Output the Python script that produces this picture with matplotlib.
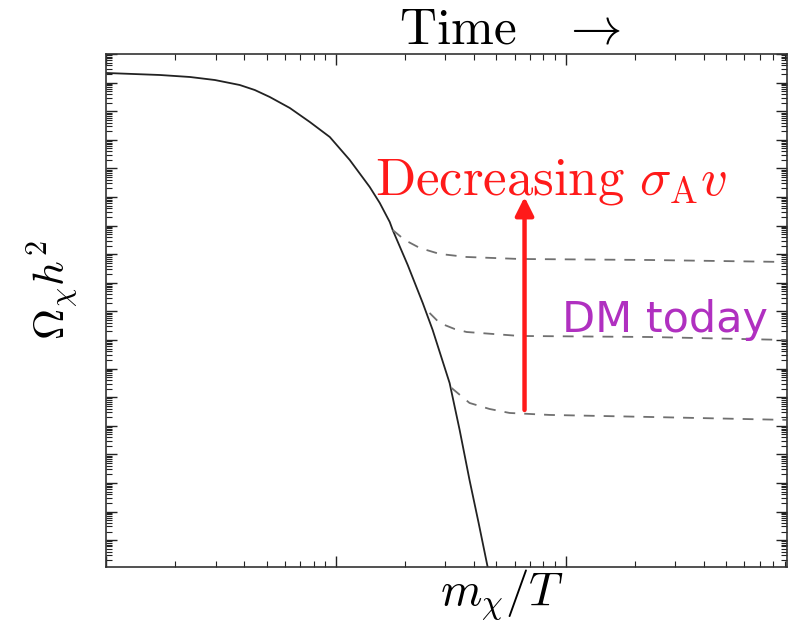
import matplotlib
matplotlib.use("Agg")
import matplotlib.pyplot as plt
from matplotlib.ticker import LogLocator, NullFormatter

plt.rcParams['mathtext.fontset'] = 'cm'

# ---- data ----
eq_x = [1.0, 1.717, 2.32, 2.98, 3.82, 4.44, 5.16, 6.31, 7.71, 9.42, 11.5, 14.05, 15.54,
        17.17, 17.69, 20.56, 23.9, 26.4, 28.6, 31.3, 34.6, 38.2, 41.85, 45.8, 49.1]
eq_y = [0.217, 0.1844, 0.157, 0.123, 0.0824, 0.0551, 0.0314, 0.01294, 4.19e-3, 1.25e-3,
        1.97e-4, 2.24e-5, 6.17e-6, 1.34e-6, 7.0e-7, 4.2e-8, 1.97e-9, 2.24e-10, 2.99e-11,
        3.1e-12, 7.13e-14, 1.27e-15, 3.99e-17, 1.16e-18, 8.1e-20]

fo1_x = [17.69, 19.95, 23.2, 28.3, 37.1, 63.1, 231.9, 914.0]
fo1_y = [7.0e-7, 3.14e-7, 1.65e-7, 1.02e-7, 7.98e-8, 6.79e-8, 6.26e-8, 5.33e-8]

fo2_x = [25.6, 28.3, 32.9, 37.1, 63.1, 231.9, 914.0]
fo2_y = [8.8e-10, 3.93e-10, 2.42e-10, 1.9e-10, 1.38e-10, 1.27e-10, 1.0e-10]

fo3_x = [31.9, 38.2, 46.7, 57.1, 85.2, 231.9, 914.0]
fo3_y = [2.1e-12, 6.27e-13, 3.86e-13, 2.8e-13, 2.39e-13, 2.03e-13, 1.6e-13]

x_limits = [1.0, 920.0]
y_limits = [1.15e-18, 1.0]

arrow_x = 66.3
arrow_y_start = 3.56e-13
arrow_y_end = 1.0e-5

label_sigma = r'$\mathrm{Decreasing}\ \sigma_{\rm A}v$'
label_sigma_pos = (14.8, 1.2e-5)
label_dm = 'DM today'
label_dm_pos = (96.1, 1.9e-10)

fig = plt.figure(figsize=(7.95, 6.23), dpi=100)
ax = fig.add_axes([106/795, 1 - 567/623, (787 - 106)/795, (567 - 54)/623])

ax.set_xscale('log')
ax.set_yscale('log')
ax.set_xlim(*x_limits)
ax.set_ylim(*y_limits)

ax.plot(eq_x, eq_y, color='#222222', lw=1.3, solid_capstyle='butt')
for fx, fy in [(fo1_x, fo1_y), (fo2_x, fo2_y), (fo3_x, fo3_y)]:
    ax.plot(fx, fy, color='#707070', lw=1.3, dashes=(6, 5))

ax.annotate('', xy=(arrow_x, arrow_y_end), xytext=(arrow_x, arrow_y_start),
            arrowprops=dict(arrowstyle='-|>,head_length=1.1,head_width=0.55',
                            color='#ff1a1a', lw=3.2, shrinkA=0, shrinkB=0))

ax.text(*label_sigma_pos, label_sigma, color='#ff1a1a', fontsize=38,
        ha='left', va='baseline')
ax.text(*label_dm_pos, label_dm, color='#b030c0', fontsize=31,
        family='DejaVu Sans', ha='left', va='baseline')

ax.xaxis.set_major_locator(LogLocator(base=10, numticks=20))
ax.xaxis.set_minor_locator(LogLocator(base=10, subs=range(2, 10), numticks=20))
ax.yaxis.set_major_locator(LogLocator(base=10, numticks=40))
ax.yaxis.set_minor_locator(LogLocator(base=10, subs=range(2, 10), numticks=40))
ax.xaxis.set_major_formatter(NullFormatter())
ax.xaxis.set_minor_formatter(NullFormatter())
ax.yaxis.set_major_formatter(NullFormatter())
ax.yaxis.set_minor_formatter(NullFormatter())
ax.tick_params(which='both', direction='in', top=True, right=True, color='#222222')
ax.tick_params(which='major', length=8, width=1.0)
ax.tick_params(which='minor', length=4, width=0.8)
for s in ax.spines.values():
    s.set_linewidth(1.2)
    s.set_color('#333333')

fig.text(510/795, 1 - 30/623, r'$\mathrm{Time}\quad\rightarrow$', fontsize=37,
         ha='center', va='center')
fig.text(54/795, 1 - 290/623, r'$\Omega_\chi h^2$', fontsize=31, rotation=90,
         ha='center', va='center')
fig.text(502/795, 1 - 606/623, r'$m_\chi/T$', fontsize=34, ha='center', va='baseline')

fig.savefig('out.png', dpi=100)
